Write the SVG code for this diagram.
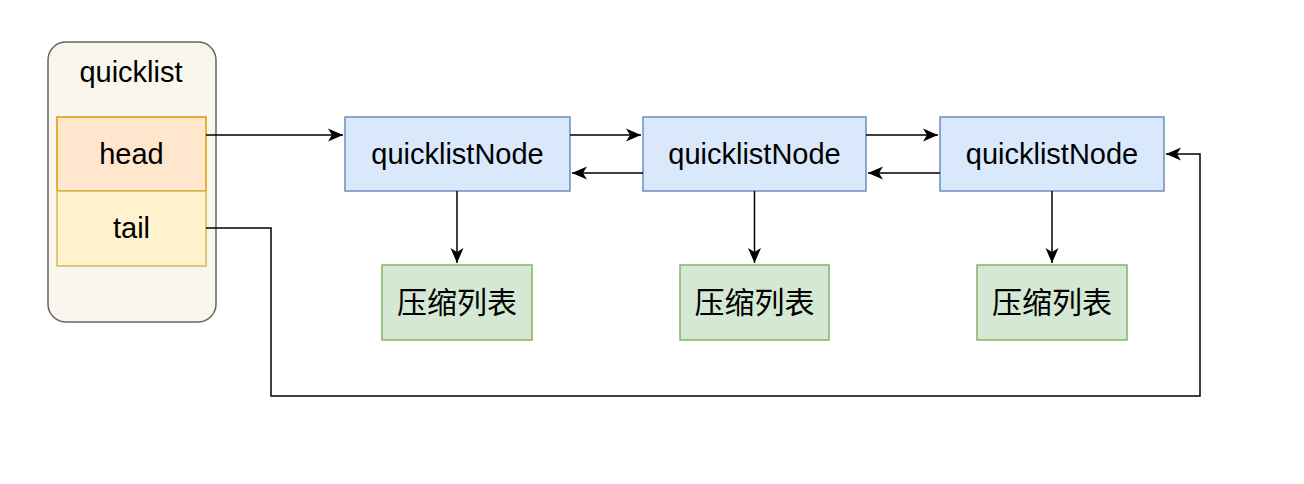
<svg xmlns="http://www.w3.org/2000/svg" width="1304" height="484" viewBox="0 0 1304 484">
<defs>
<style>
.t{font-family:"Liberation Sans",Arial,sans-serif;font-size:29px;fill:#000;text-anchor:middle;dominant-baseline:central}
.c{font-family:"Liberation Sans","Noto Sans CJK SC",sans-serif;font-size:30px;fill:#000;text-anchor:middle;dominant-baseline:central}
.node{fill:#dae8fc;stroke:#6c8ebf;stroke-width:1.5}
.zl{fill:#d5e8d4;stroke:#82b366;stroke-width:1.5}
.e{fill:none;stroke:#000;stroke-width:1.5}
</style>
<marker id="a" markerWidth="16" markerHeight="14" refX="15" refY="7" orient="auto" markerUnits="userSpaceOnUse">
<path d="M0,0.5 L15,7 L0,13.5 L4,7 Z" fill="#000"/>
</marker>
</defs>
<rect width="1304" height="484" fill="#fff"/>
<g id="quicklist">
<rect x="48" y="42" width="168" height="280" rx="18" fill="#f9f7ed" stroke="#666" stroke-width="1.5"/>
<text class="t" x="131" y="72">quicklist</text>
</g>
<g id="head">
<rect x="57" y="117" width="149" height="74" fill="#ffe6cc" stroke="#d79b00" stroke-width="1.5"/>
<text class="t" x="131.5" y="154">head</text>
</g>
<g id="tail">
<rect x="57" y="191" width="149" height="75" fill="#fff2cc" stroke="#d6b656" stroke-width="1.5"/>
<text class="t" x="131.5" y="228">tail</text>
</g>
<g id="node1">
<rect class="node" x="345" y="117" width="225" height="74"/>
<text class="t" x="457.5" y="154">quicklistNode</text>
</g>
<g id="node2">
<rect class="node" x="643" y="117" width="223" height="74"/>
<text class="t" x="754.5" y="154">quicklistNode</text>
</g>
<g id="node3">
<rect class="node" x="940" y="117" width="224" height="74"/>
<text class="t" x="1052" y="154">quicklistNode</text>
</g>
<g id="zl1">
<rect class="zl" x="382" y="265" width="150" height="75"/>
<text class="c" x="457" y="302.5">压缩列表</text>
</g>
<g id="zl2">
<rect class="zl" x="680" y="265" width="149" height="75"/>
<text class="c" x="754.5" y="302.5">压缩列表</text>
</g>
<g id="zl3">
<rect class="zl" x="977" y="265" width="150" height="75"/>
<text class="c" x="1052" y="302.5">压缩列表</text>
</g>
<g id="connectors">
<path class="e" d="M206,135 H343" marker-end="url(#a)"/>
<path class="e" d="M570,135 H641" marker-end="url(#a)"/>
<path class="e" d="M643,173 H572" marker-end="url(#a)"/>
<path class="e" d="M866,135 H938" marker-end="url(#a)"/>
<path class="e" d="M940,173 H868" marker-end="url(#a)"/>
<path class="e" d="M457,191 V263" marker-end="url(#a)"/>
<path class="e" d="M754.5,191 V263" marker-end="url(#a)"/>
<path class="e" d="M1052,191 V263" marker-end="url(#a)"/>
<path class="e" d="M206,228 H271 V396 H1200 V154 H1166" marker-end="url(#a)"/>
</g>
</svg>
